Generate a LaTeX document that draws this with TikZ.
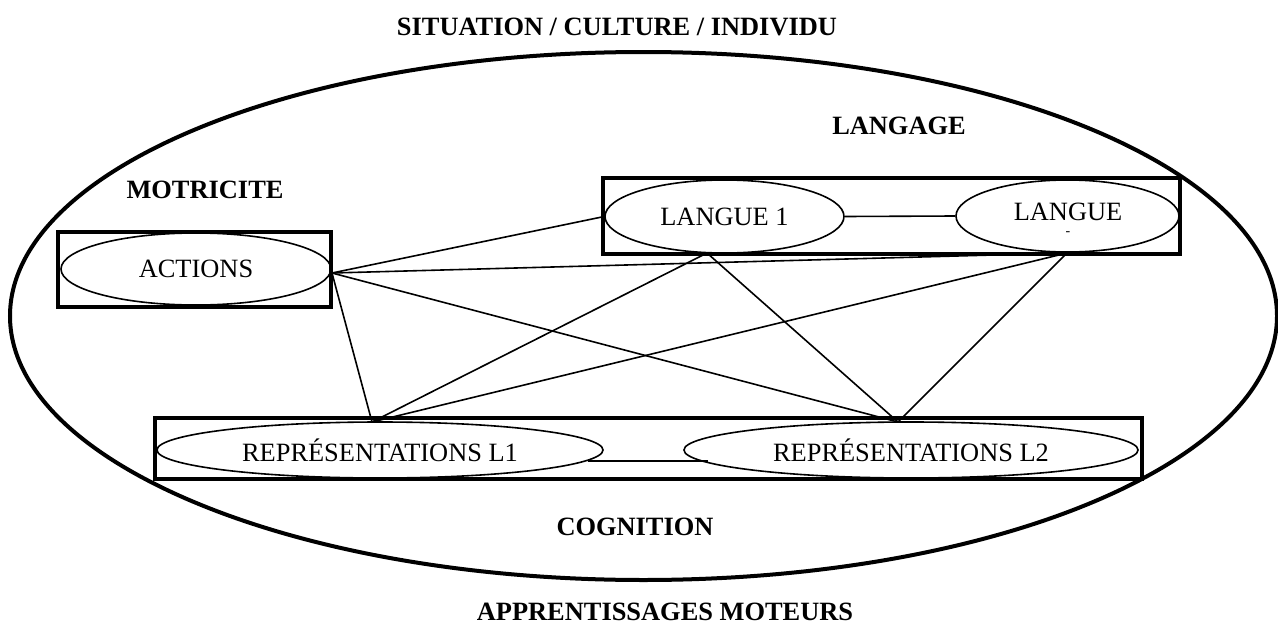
\documentclass[tikz,border=0pt]{standalone}
\usepackage{fontspec}
\setmainfont{Liberation Serif}
\usetikzlibrary{shapes.geometric}
\begin{document}
\begin{tikzpicture}[x=1pt,y=-1pt,
  txt/.style={font=\fontsize{26.4}{30}\selectfont, inner sep=0pt},
  ttl/.style={font=\fontsize{26.4}{30}\selectfont\bfseries, inner sep=0pt},
  oval/.style={ellipse, draw, line width=1.6pt, inner sep=0pt,
               font=\fontsize{26.4}{30}\selectfont},
  frame/.style={draw, line width=4pt, inner sep=0pt},
  link/.style={line width=1.6pt}]
\useasboundingbox (0,0) rectangle (1278,629);

% outer context
\node[ellipse, draw, line width=4pt, minimum width=1267pt, minimum height=528pt] (world) at (643.5,316) {};

% group frames
\node[frame, minimum width=273pt, minimum height=75pt] (actbox) at (194.5,269.5) {};
\node[frame, minimum width=577pt, minimum height=76pt] (langbox) at (891.5,216) {};
\node[frame, minimum width=987pt, minimum height=61pt] (repbox) at (648.5,448.5) {};

% ovals
\node[oval, minimum width=270pt, minimum height=72pt] (act) at (196,269) {ACTIONS};
\node[oval, minimum width=239pt, minimum height=73pt] (l1) at (724.5,216.5) {LANGUE 1};
\node[oval, minimum width=223pt, minimum height=72pt] (l2) at (1067.5,216) {};
\node[txt] (l2text) at (1068,212) {LANGUE};
\node[txt, font=\fontsize{14}{14}\selectfont] (l2dash) at (1068,234) {-};
\node[oval, minimum width=446pt, minimum height=56pt] (r1) at (380,450) {REPRÉSENTATIONS L1};
\node[oval, minimum width=454pt, minimum height=56pt] (r2) at (911,450) {REPRÉSENTATIONS L2};

% titles
\node[ttl] (situ) at (617,27) {SITUATION / CULTURE / INDIVIDU};
\node[ttl] (langage) at (899,126) {LANGAGE};
\node[ttl] (motri) at (205,190) {MOTRICITE};
\node[ttl] (cogn) at (635,527) {COGNITION};
\node[ttl] (appr) at (665,612) {APPRENTISSAGES MOTEURS};

% anchor points of the links
\coordinate (aR) at (332,273);
\coordinate (l1B) at (707,253);
\coordinate (l2B) at (1067,253);
\coordinate (r1T) at (372,422);
\coordinate (r2T) at (898,422);
\coordinate (r1E) at (588,461);
\coordinate (r2W) at (708,461);

% links
\draw[link] (aR) -- (l1.west);
\draw[link] (aR) -- (l2B);
\draw[link] (aR) -- (r1T);
\draw[link] (aR) -- (r2T);
\draw[link] (l1B) -- (r1T);
\draw[link] (l1B) -- (r2T);
\draw[link] (l2B) -- (r1T);
\draw[link] (l2B) -- (r2T);
\draw[link] (l1.east) -- (l2.west);
\draw[link] (r1E) -- (r2W);
\end{tikzpicture}
\end{document}
